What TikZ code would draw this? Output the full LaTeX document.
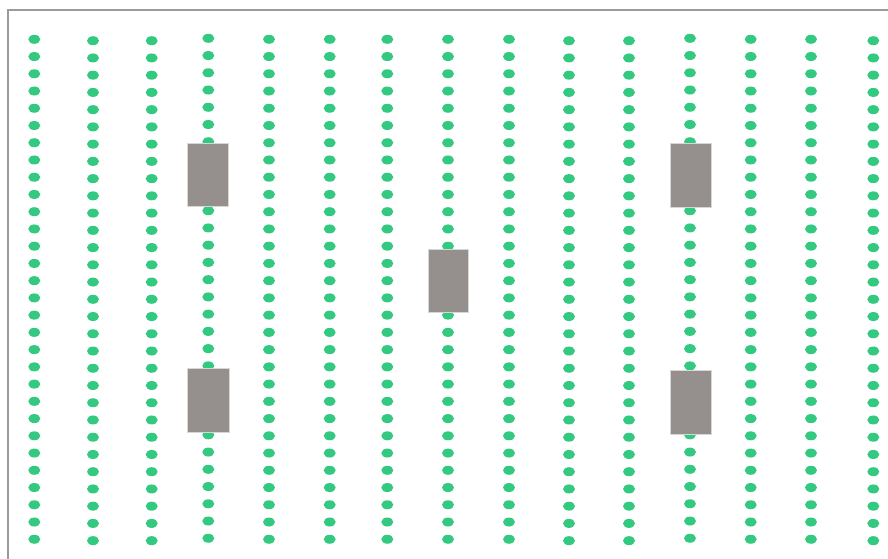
\documentclass[tikz,border=0pt]{standalone}
\usepackage{xcolor}
\usepackage{tikz}
\definecolor{dotgreen}{RGB}{52, 201, 128}
\definecolor{blockgray}{RGB}{149, 143, 141}
\definecolor{blockedge}{RGB}{215, 215, 215}
\definecolor{framegray}{RGB}{155, 155, 155}

\begin{document}
\begin{tikzpicture}[x=0.03cm, y=-0.03cm,
    seed/.style={fill=dotgreen},
    block/.style={fill=blockgray, draw=blockedge, line width=0.4pt}]
  \useasboundingbox (0,0) rectangle (888,559);
  % --- frame (runs off the right and bottom edge) ---
  \draw[framegray, line width=0.06cm] (8,10) rectangle (900,580);

  % --- columns of dots: x / first y ---
  \foreach \x/\y in {34.3/39.3, 93/40.7, 151.7/40.7, 208.3/38.3, 269/39.3,
                     329.7/39.3, 387.3/39.3, 448/39.3, 509/39.3, 569/40.7,
                     629/40.7, 690/38.3, 750.7/39.3, 811/39.3, 873.3/40.7}{
    \foreach \k in {0,...,29}{
      \fill[seed] (\x,\y+17.24*\k) ellipse [x radius=0.18cm, y radius=0.135cm];
    }
  }

  % --- grey blocks on top ---
  \foreach \xa/\ya/\xb/\yb in {187/143/228/206, 670/143.5/711/207,
                               428/249.5/468.5/312.5,
                               187.5/368.5/229/432, 670/370.5/711/434}{
    \draw[block] (\xa,\ya) rectangle (\xb,\yb);
  }
\end{tikzpicture}
\end{document}
